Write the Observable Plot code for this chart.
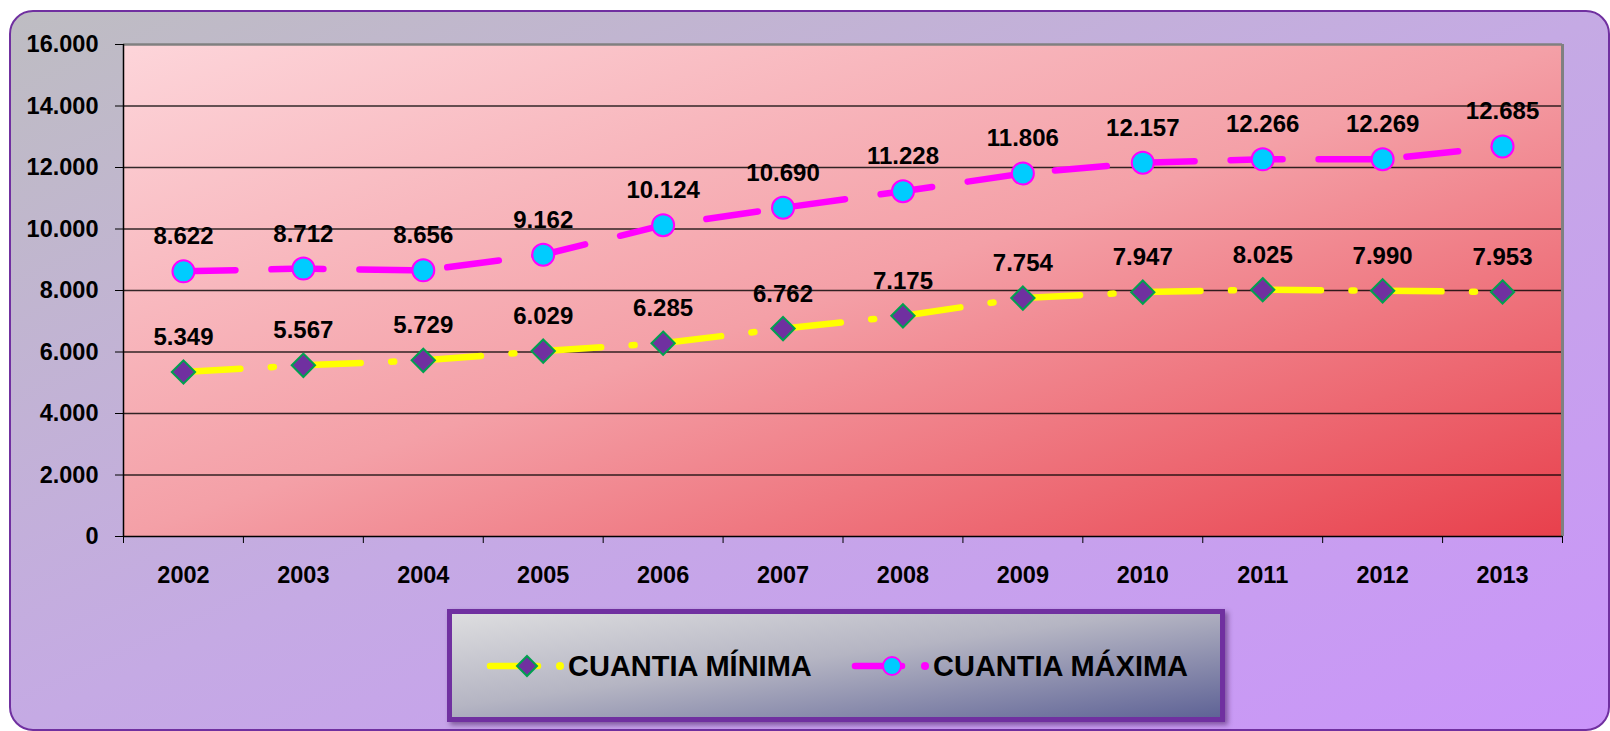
<!DOCTYPE html>
<html>
<head>
<meta charset="utf-8">
<script src="https://cdn.jsdelivr.net/npm/d3@7"></script>
<script src="https://cdn.jsdelivr.net/npm/@observablehq/plot@0.6"></script>
<style>
  body { margin: 0; background: #ffffff; }
  #wrap { position: relative; width: 1610px; height: 731px; overflow: hidden; font-family: "Liberation Sans", Arial, sans-serif; }
  #outer { position: absolute; left: 9px; top: 10px; width: 1601px; height: 721px; box-sizing: border-box;
           border: 2.5px solid #7030a0; border-radius: 24px;
           background: linear-gradient(to bottom right, #bebdc2 0%, #c5aae4 50%, #ca94fa 100%); }
  #chart { position: absolute; left: 0; top: 0; }
  #legend { position: absolute; left: 447px; top: 609px; width: 778px; height: 113px; box-sizing: border-box;
            border: 5px solid #7030a0;
            background: linear-gradient(to bottom right, #dddddf 0%, #b5b5c3 45%, #5f6396 100%);
            box-shadow: 3px 3px 5px rgba(40, 0, 60, 0.45); }
  #legend svg { position: absolute; left: 0; top: 0; font-family: "Liberation Sans", Arial, sans-serif; font-weight: bold; }
</style>
</head>
<body>
<div id="wrap">
  <div id="outer"></div>
  <div id="chart"></div>
  <div id="legend"></div>
</div>
<script>
const years = ["2002", "2003", "2004", "2005", "2006", "2007", "2008", "2009", "2010", "2011", "2012", "2013"];
const minimaValues = [5349, 5567, 5729, 6029, 6285, 6762, 7175, 7754, 7947, 8025, 7990, 7953];
const maximaValues = [8622, 8712, 8656, 9162, 10124, 10690, 11228, 11806, 12157, 12266, 12269, 12685];
const yTicks = [0, 2000, 4000, 6000, 8000, 10000, 12000, 14000, 16000];
const seriesNames = ["CUANTIA MÍNIMA", "CUANTIA MÁXIMA"];

const minData = years.map((year, i) => ({ i, year, value: minimaValues[i] }));
const maxData = years.map((year, i) => ({ i, year, value: maximaValues[i] }));

const fmt = d3.formatLocale({ decimal: ",", thousands: ".", grouping: [3], currency: ["", ""] }).format(",");
const n = years.length;
const xDomain = [-0.5, n - 0.5];
const boundaries = d3.range(n + 1).map(k => k - 0.5);
const yMax = yTicks[yTicks.length - 1];
const font = '"Liberation Sans", Arial, sans-serif';

const chart = Plot.plot({
  width: 1610,
  height: 600,
  marginLeft: 123,
  marginRight: 48,
  marginTop: 44,
  marginBottom: 64,
  style: { background: "transparent", fontFamily: font, fontSize: "23.5px", fontWeight: "bold", color: "#000", overflow: "visible" },
  x: { type: "linear", domain: xDomain, axis: null, label: null },
  y: { domain: [0, yMax], axis: null, label: null },
  marks: [
    Plot.frame({ fill: "url(#plotGrad)", stroke: "none" }),
    Plot.gridY(yTicks.filter(v => v > 0 && v < yMax), { stroke: "#000", strokeOpacity: 0.8, strokeWidth: 1.3 }),
    Plot.ruleY([yMax], { stroke: "#808080", strokeWidth: 2.5 }),
    Plot.ruleX([xDomain[1]], { stroke: "#808080", strokeWidth: 3 }),
    Plot.ruleX([xDomain[0]], { stroke: "#000", strokeWidth: 1.5 }),
    Plot.ruleY([0], { stroke: "#000", strokeWidth: 1.5 }),
    Plot.axisY({ ticks: yTicks, tickFormat: fmt, tickSize: 8, tickPadding: 17, label: null }),
    Plot.axisX({ ticks: boundaries, tickFormat: () => "", tickSize: 7, label: null }),
    Plot.axisX({ ticks: d3.range(n), tickFormat: i => years[i], tickSize: 0, tickPadding: 30, label: null }),
    Plot.line(maxData, { x: "i", y: "value", stroke: "#ff00ff", strokeWidth: 6.5, strokeLinecap: "round", strokeDasharray: "52,36" }),
    Plot.line(minData, { x: "i", y: "value", stroke: "#ffff00", strokeWidth: 6.5, strokeLinecap: "round", strokeDasharray: "57,30.5,3,30" }),
    Plot.dot(minData, { x: "i", y: "value", symbol: "diamond2", r: 10.5, fill: "#7030a0", stroke: "#00a050", strokeWidth: 2 }),
    Plot.dot(maxData, { x: "i", y: "value", symbol: "circle", r: 11, fill: "#00ccff", stroke: "#ff00ff", strokeWidth: 2 }),
    Plot.text(maxData, { x: "i", y: "value", text: d => fmt(d.value), dy: -27, lineAnchor: "bottom", fontSize: 24, fontWeight: "bold", fill: "#000" }),
    Plot.text(minData, { x: "i", y: "value", text: d => fmt(d.value), dy: -27, lineAnchor: "bottom", fontSize: 24, fontWeight: "bold", fill: "#000" })
  ]
});

const svgNS = "http://www.w3.org/2000/svg";
const defs = document.createElementNS(svgNS, "defs");
defs.innerHTML = '<linearGradient id="plotGrad" x1="0" y1="0" x2="1" y2="1">' +
  '<stop offset="0" stop-color="#fdd5da"/>' +
  '<stop offset="0.5" stop-color="#f4a0a7"/>' +
  '<stop offset="1" stop-color="#e8404c"/>' +
  '</linearGradient>';
chart.insertBefore(defs, chart.firstChild);
document.getElementById("chart").appendChild(chart);

// Legend
const legend = document.getElementById("legend");
legend.innerHTML = `
<svg width="768" height="103" xmlns="http://www.w3.org/2000/svg">
  <line x1="38" y1="52" x2="86" y2="52" stroke="#ffff00" stroke-width="6.5" stroke-linecap="round"/>
  <polygon points="75,42 85,52 75,62 65,52" fill="#7030a0" stroke="#00a050" stroke-width="2"/>
  <circle cx="108" cy="52" r="4" fill="#ffff00"/>
  <text x="116" y="62" font-size="29" font-weight="bold" fill="#000">${seriesNames[0]}</text>
  <line x1="403" y1="52" x2="450" y2="52" stroke="#ff00ff" stroke-width="6.5" stroke-linecap="round"/>
  <circle cx="440" cy="52" r="9" fill="#00ccff" stroke="#ff00ff" stroke-width="2"/>
  <circle cx="473" cy="52" r="4" fill="#ff00ff"/>
  <text x="481" y="62" font-size="29" font-weight="bold" fill="#000">${seriesNames[1]}</text>
</svg>`;
</script>
</body>
</html>
